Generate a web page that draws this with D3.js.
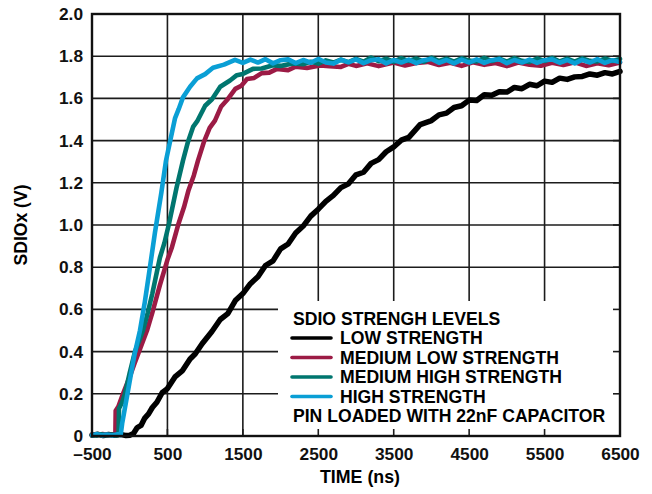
<!DOCTYPE html>
<html>
<head>
<meta charset="utf-8">
<script src="https://cdn.jsdelivr.net/npm/d3@7"></script>
<style>
  html, body { margin: 0; padding: 0; background: #fff; }
  svg { display: block; font-family: "Liberation Sans", Arial, Helvetica, sans-serif; font-weight: bold; }
</style>
</head>
<body>
<svg id="chart" width="652" height="494"></svg>
<script>
// Axis ticks
const xTicks = [-500, 500, 1500, 2500, 3500, 4500, 5500, 6500];
const xTickLabels = ["\u2013500", "500", "1500", "2500", "3500", "4500", "5500", "6500"];
const yTicks = [0, 0.2, 0.4, 0.6, 0.8, 1.0, 1.2, 1.4, 1.6, 1.8, 2.0];
const yTickLabels = ["0", "0.2", "0.4", "0.6", "0.8", "1.0", "1.2", "1.4", "1.6", "1.8", "2.0"];

// LOW STRENGTH trace (time in ns, volts)
const lowTime = [-500, -420, -350, -280, -200, -120, -50, 0, 50, 100, 150, 200, 250, 300, 360, 430, 500, 600, 700, 800, 870, 960, 1090, 1200, 1300, 1400, 1500, 1600, 1700, 1800, 1900, 2000, 2100, 2200, 2300, 2400, 2500, 2600, 2700, 2800, 2900, 3000, 3100, 3200, 3300, 3400, 3500, 3600, 3700, 3850, 4000, 4100, 4200, 4300, 4400, 4500, 4600, 4700, 4800, 4900, 5000, 5100, 5200, 5300, 5400, 5500, 5600, 5700, 5800, 5900, 6000, 6100, 6200, 6300, 6400, 6500];
const lowVolts = [0.004, 0.008, 0.002, 0.007, 0.003, 0.008, 0.002, 0.004, 0.012, 0.04, 0.05, 0.085, 0.105, 0.135, 0.16, 0.205, 0.225, 0.28, 0.31, 0.365, 0.39, 0.437, 0.495, 0.552, 0.58, 0.642, 0.675, 0.722, 0.755, 0.808, 0.83, 0.887, 0.91, 0.962, 0.995, 1.042, 1.075, 1.112, 1.14, 1.177, 1.195, 1.238, 1.25, 1.292, 1.31, 1.347, 1.37, 1.402, 1.415, 1.476, 1.495, 1.522, 1.53, 1.557, 1.565, 1.592, 1.59, 1.617, 1.615, 1.632, 1.63, 1.652, 1.646, 1.667, 1.66, 1.682, 1.676, 1.696, 1.69, 1.702, 1.704, 1.716, 1.71, 1.722, 1.716, 1.728];

// MEDIUM LOW STRENGTH trace
const medLowTime = [-500, -430, -360, -290, -220, -190, -186, -150, -89, 0, 60, 123, 229, 300, 400, 500, 560, 646, 720, 780, 850, 905, 985, 1060, 1130, 1210, 1290, 1400, 1480, 1555, 1650, 1750, 1850, 1953, 2100, 2200, 2350, 2523, 2650, 2800, 2900, 3000, 3150, 3300, 3500, 3650, 3800, 3950, 4100, 4250, 4400, 4550, 4700, 4850, 5000, 5150, 5300, 5450, 5600, 5750, 5900, 6050, 6200, 6350, 6500];
const medLowVolts = [0.008, 0.003, 0.009, 0.004, 0.007, 0.004, 0.12, 0.14, 0.2, 0.28, 0.34, 0.4, 0.5, 0.585, 0.715, 0.835, 0.895, 1.005, 1.085, 1.165, 1.235, 1.305, 1.395, 1.46, 1.495, 1.56, 1.592, 1.645, 1.66, 1.692, 1.697, 1.72, 1.722, 1.74, 1.734, 1.75, 1.744, 1.756, 1.752, 1.749, 1.764, 1.754, 1.766, 1.753, 1.77, 1.756, 1.768, 1.773, 1.758, 1.769, 1.754, 1.771, 1.759, 1.768, 1.753, 1.77, 1.76, 1.755, 1.769, 1.758, 1.771, 1.754, 1.767, 1.757, 1.77];

// MEDIUM HIGH STRENGTH trace
const medHighTime = [-500, -440, -380, -310, -240, -180, -148, -142, -100, -63, 0, 70, 176, 240, 300, 400, 460, 520, 620, 706, 773, 840, 900, 1000, 1091, 1200, 1330, 1420, 1500, 1634, 1750, 1900, 2000, 2165, 2300, 2400, 2500, 2600, 2700, 2800, 2900, 3000, 3100, 3200, 3300, 3400, 3500, 3600, 3700, 3800, 3900, 4000, 4100, 4200, 4300, 4400, 4500, 4600, 4700, 4800, 4900, 5000, 5100, 5200, 5300, 5400, 5500, 5600, 5700, 5800, 5900, 6000, 6100, 6200, 6300, 6400, 6500];
const medHighVolts = [0.006, 0.002, 0.008, 0.003, 0.007, 0.003, 0.005, 0.13, 0.16, 0.2, 0.3, 0.4, 0.5, 0.585, 0.675, 0.845, 0.915, 1.005, 1.175, 1.305, 1.395, 1.465, 1.495, 1.565, 1.596, 1.655, 1.685, 1.71, 1.716, 1.74, 1.742, 1.757, 1.754, 1.766, 1.762, 1.774, 1.765, 1.78, 1.77, 1.784, 1.772, 1.787, 1.774, 1.794, 1.776, 1.788, 1.773, 1.791, 1.777, 1.789, 1.774, 1.793, 1.777, 1.788, 1.774, 1.79, 1.779, 1.775, 1.792, 1.777, 1.789, 1.774, 1.791, 1.778, 1.773, 1.789, 1.777, 1.792, 1.775, 1.788, 1.774, 1.79, 1.778, 1.775, 1.789, 1.777, 1.787];

// HIGH STRENGTH trace
const highTime = [-500, -430, -370, -300, -230, -160, -120, -100, -40, 0, 60, 136, 200, 250, 335, 420, 481, 534, 600, 650, 706, 800, 892, 1000, 1104, 1250, 1396, 1500, 1600, 1700, 1800, 1900, 2000, 2100, 2200, 2300, 2400, 2500, 2600, 2700, 2800, 2900, 3000, 3100, 3200, 3300, 3400, 3500, 3600, 3700, 3800, 3900, 4000, 4100, 4200, 4300, 4400, 4500, 4600, 4700, 4800, 4900, 5000, 5100, 5200, 5300, 5400, 5500, 5600, 5700, 5800, 5900, 6000, 6100, 6200, 6300, 6400, 6500];
const highVolts = [0.004, 0.009, 0.003, 0.007, 0.002, 0.008, 0.004, 0.06, 0.18, 0.26, 0.38, 0.5, 0.635, 0.755, 0.965, 1.155, 1.305, 1.395, 1.505, 1.55, 1.605, 1.655, 1.695, 1.715, 1.745, 1.76, 1.783, 1.768, 1.784, 1.77, 1.786, 1.766, 1.781, 1.785, 1.767, 1.782, 1.769, 1.787, 1.77, 1.765, 1.783, 1.771, 1.785, 1.767, 1.781, 1.786, 1.766, 1.782, 1.77, 1.784, 1.767, 1.781, 1.787, 1.769, 1.782, 1.766, 1.784, 1.77, 1.785, 1.768, 1.781, 1.786, 1.767, 1.782, 1.77, 1.784, 1.768, 1.781, 1.785, 1.769, 1.782, 1.766, 1.783, 1.77, 1.786, 1.768, 1.781, 1.772];

const seriesNames = ["LOW STRENGTH", "MEDIUM LOW STRENGTH", "MEDIUM HIGH STRENGTH", "HIGH STRENGTH"];
const seriesColors = ["#000000", "#9c1b45", "#00766f", "#0a9fd5"];
const seriesTimes = [lowTime, medLowTime, medHighTime, highTime];
const seriesVolts = [lowVolts, medLowVolts, medHighVolts, highVolts];

const legendTitle = "SDIO STRENGH LEVELS";
const legendNote = "PIN LOADED WITH 22nF CAPACITOR";

const svg = d3.select("#chart");
const plotLeft = 92, plotRight = 620, plotTop = 14, plotBottom = 436;

const x = d3.scaleLinear().domain([-500, 6500]).range([plotLeft, plotRight]);
const y = d3.scaleLinear().domain([0, 2]).range([plotBottom, plotTop]);

// grid
const grid = svg.append("g").attr("stroke", "#1c1c1c").attr("stroke-width", 1.6);
grid.selectAll("line.v").data(xTicks.slice(1, -1)).join("line")
  .attr("x1", d => x(d)).attr("x2", d => x(d)).attr("y1", plotTop).attr("y2", plotBottom);
grid.selectAll("line.h").data(yTicks.slice(1, -1)).join("line")
  .attr("y1", d => y(d)).attr("y2", d => y(d)).attr("x1", plotLeft).attr("x2", plotRight);

// traces
const plot = svg.append("g");
const line = d3.line().x(d => x(d[0])).y(d => y(d[1]));
seriesTimes.forEach((times, i) => {
  const pts = times.map((t, j) => [t, seriesVolts[i][j]]);
  plot.append("path")
    .attr("d", line(pts))
    .attr("fill", "none")
    .attr("stroke", seriesColors[i])
    .attr("stroke-width", i === 0 ? 5.5 : 4.6)
    .attr("stroke-linejoin", "round")
    .attr("stroke-linecap", "round");
});

// legend panel covering the grid
const lg = svg.append("g");
lg.append("rect").attr("x", 278).attr("y", 301).attr("width", plotRight - 278).attr("height", plotBottom - 301).attr("fill", "#fff");

// inward tick marks along bottom and right edges
const ticks = svg.append("g").attr("stroke", "#1c1c1c").attr("stroke-width", 1.6);
ticks.selectAll("line.b").data(xTicks.slice(1, -1)).join("line")
  .attr("x1", d => x(d)).attr("x2", d => x(d)).attr("y1", plotBottom).attr("y2", plotBottom - 7);
ticks.selectAll("line.r").data(yTicks.slice(1, -1)).join("line")
  .attr("y1", d => y(d)).attr("y2", d => y(d)).attr("x1", plotRight).attr("x2", plotRight - 7);

lg.append("text").attr("x", 293).attr("y", 325).attr("font-size", 17.6).text(legendTitle);
seriesNames.forEach((name, i) => {
  const by = 344 + i * 19.5;
  lg.append("line").attr("x1", 292).attr("x2", 331).attr("y1", by - 6).attr("y2", by - 6)
    .attr("stroke", seriesColors[i]).attr("stroke-width", 3.6).attr("stroke-linecap", "round");
  lg.append("text").attr("x", 340).attr("y", by).attr("font-size", 17.6).text(name);
});
lg.append("text").attr("x", 293).attr("y", 422).attr("font-size", 17.6).text(legendNote);

// frame
svg.append("rect").attr("x", plotLeft).attr("y", plotTop).attr("width", plotRight - plotLeft).attr("height", plotBottom - plotTop)
  .attr("fill", "none").attr("stroke", "#111").attr("stroke-width", 2.4);

// axes (labels only)
const xAxis = d3.axisBottom(x).tickValues(xTicks).tickFormat((d, i) => xTickLabels[i]).tickSize(0).tickPadding(12);
const gx = svg.append("g").attr("transform", `translate(0,${plotBottom})`).call(xAxis);
const yAxis = d3.axisLeft(y).tickValues(yTicks).tickFormat((d, i) => yTickLabels[i]).tickSize(0).tickPadding(9);
const gy = svg.append("g").attr("transform", `translate(${plotLeft},0)`).call(yAxis);
[gx, gy].forEach(g => {
  g.attr("font-family", null).attr("font-size", null);
  g.select(".domain").remove();
  g.selectAll("text").attr("font-size", 17.3).attr("fill", "#111");
});

// axis titles
svg.append("text").attr("x", 360).attr("y", 483).attr("text-anchor", "middle").attr("font-size", 17.8).text("TIME (ns)");
svg.append("text").attr("transform", "translate(27,225) rotate(-90)").attr("text-anchor", "middle").attr("font-size", 17.6).text("SDIOx (V)");
</script>
</body>
</html>
